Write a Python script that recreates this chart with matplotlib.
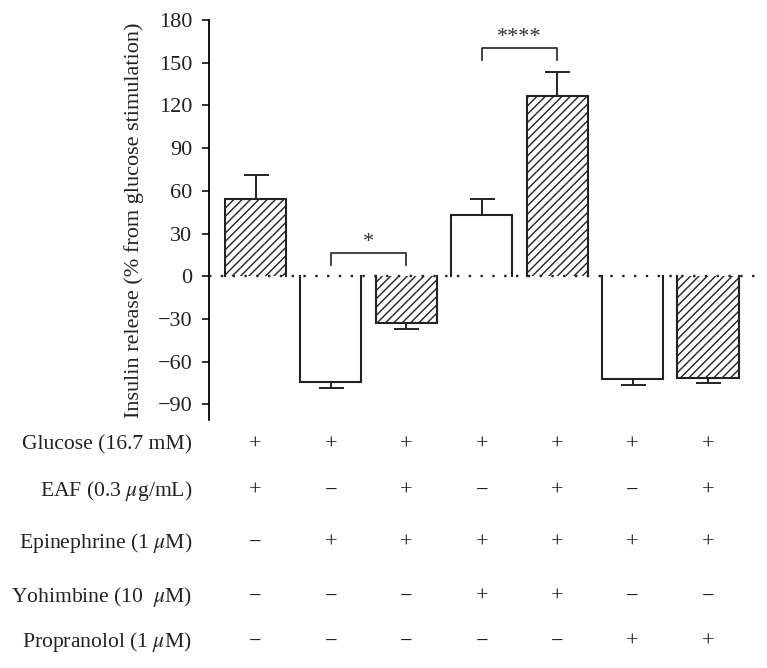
import matplotlib
matplotlib.use("Agg")
import matplotlib.pyplot as plt
import numpy as np

plt.rcParams['font.family'] = ['Liberation Serif', 'DejaVu Serif']
plt.rcParams['mathtext.fontset'] = 'stix'
plt.rcParams['hatch.linewidth'] = 1.0

# bar data (% from glucose stimulation)
values = [54.5, -74.3, -32.6, 42.9, 126.4, -72.4, -71.3]
errors = [16.5, 4.0, 4.7, 11.2, 17.3, 3.8, 3.7]
hatched = [True, False, True, False, True, False, True]

# treatment table
row_labels = ['Glucose (16.7 mM)', 'EAF (0.3 $\\mu$g/mL)', 'Epinephrine (1 $\\mu$M)',
              'Yohimbine (10  $\\mu$M)', 'Propranolol (1 $\\mu$M)']
table = [
    ['+', '+', '+', '+', '+', '+', '+'],
    ['+', '-', '+', '-', '+', '-', '+'],
    ['-', '+', '+', '+', '+', '+', '+'],
    ['-', '-', '-', '+', '+', '-', '-'],
    ['-', '-', '-', '-', '-', '+', '+'],
]
row_y = [445, 491, 543, 597, 642]  # pixel rows

# significance brackets: (left bar, right bar, height, text)
sig = [(1, 2, 16, '*'), (3, 4, 160, '****')]

W, H = 767, 668
fig = plt.figure(figsize=(W / 100, H / 100), dpi=100)
ax = fig.add_axes([209 / W, 1 - 420 / H, (760 - 209) / W, 400 / H])

x = np.arange(len(values))
bars = ax.bar(x, values, width=0.81, color='white', edgecolor='#222222',
              linewidth=0, hatch=['////' if h else '' for h in hatched], zorder=2)
# outline on three sides (no edge along zero line)
for b in bars:
    x0, x1 = b.get_x(), b.get_x() + b.get_width()
    y1 = b.get_height()
    ax.plot([x0, x0, x1, x1], [0, y1, y1, 0], color='#222222', lw=1.5,
            zorder=3, solid_joinstyle='miter')

lower = [e if v < 0 else 0 for v, e in zip(values, errors)]
upper = [e if v >= 0 else 0 for v, e in zip(values, errors)]
ax.errorbar(x, values, yerr=[lower, upper], fmt='none', ecolor='#222222',
            elinewidth=1.4, capsize=9, capthick=1.4, zorder=1)

ax.axhline(0, color='#222222', lw=1.7, ls=(0, (1, 4)), zorder=4)

for i, j, h, s in sig:
    ax.plot([i, i, j, j], [h - 8, h, h, h - 8], color='#222222', lw=1.2)
    ax.text((i + j) / 2, h + 1, s, ha='center', va='bottom', fontsize=16,
            color='#333333')

ax.set_xlim(-0.617, 6.69)
ax.set_ylim(-101, 180)
ax.set_yticks(np.arange(-90, 181, 30))
ax.set_yticklabels([str(t).replace('-', '\u2212') for t in range(-90, 181, 30)])
ax.set_xticks([])
for sp in ['top', 'right', 'bottom']:
    ax.spines[sp].set_visible(False)
ax.spines['left'].set_linewidth(1.3)
ax.tick_params(axis='y', direction='out', length=5, width=1.3, labelsize=16,
               colors='#222222', pad=7)
ax.set_ylabel('Insulin release (% from glucose stimulation)', fontsize=16,
              color='#222222', labelpad=10)

for r, lab in enumerate(row_labels):
    yf = 1 - row_y[r] / H
    fig.text(192 / W, yf, lab, ha='right', va='center', fontsize=15.6, color='#222222')
    for c, s in enumerate(table[r]):
        ax.text(x[c], yf, '+' if s == '+' else '\u2212', ha='center', va='center',
                fontsize=16, color='#222222',
                transform=matplotlib.transforms.blended_transform_factory(ax.transData, fig.transFigure))

fig.savefig('out.png', dpi=100)
